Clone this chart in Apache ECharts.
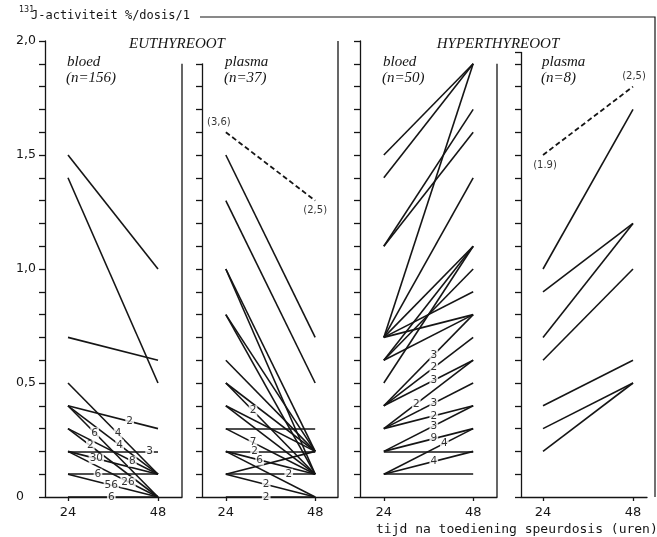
<!DOCTYPE html>
<html><head><meta charset="utf-8">
<script src="https://cdn.jsdelivr.net/npm/echarts@6/dist/echarts.min.js"></script>
<style>html,body{margin:0;padding:0;background:#fff}#c{width:657px;height:537px}</style>
</head><body><div id="c"></div>
<script>
// ================= DATA =================
const hours = [24, 48];
const yTickLabels = ['0', '0,5', '1,0', '1,5', '2,0'];
const yTitleSup = '131';
const yTitle = 'J-activiteit %/dosis/1';
const xTitle = 'tijd na toediening speurdosis (uren)';
const groupNames = ['EUTHYREOOT', 'HYPERTHYREOOT'];
const panelNames = ['bloed', 'plasma', 'bloed', 'plasma'];
const panelN = ['(n=156)', '(n=37)', '(n=50)', '(n=8)'];

// Euthyreoot - bloed (n=156): value at 24 h, value at 48 h, number of patients
const euBloedAt24 = [1.5, 1.4, 0.7, 0.5, 0.4, 0.4, 0.4, 0.3, 0.3, 0.2, 0.2, 0.2, 0.1, 0.1, 0.0];
const euBloedAt48 = [1.0, 0.5, 0.6, 0.1, 0.3, 0.1, 0.0, 0.1, 0.0, 0.2, 0.1, 0.0, 0.1, 0.0, 0.0];
const euBloedCount = [1, 1, 1, 4, 2, 4, 6, 8, 2, 3, 30, 26, 6, 56, 6];

// Euthyreoot - plasma (n=37)
const euPlasmaAt24 = [1.5, 1.3, 1.0, 1.0, 0.8, 0.8, 0.6, 0.5, 0.5, 0.4, 0.4, 0.3, 0.3, 0.2, 0.2, 0.2, 0.1, 0.1, 0.1, 0.0];
const euPlasmaAt48 = [0.7, 0.5, 0.2, 0.1, 0.2, 0.1, 0.2, 0.1, 0.2, 0.2, 0.1, 0.3, 0.1, 0.2, 0.1, 0.0, 0.2, 0.1, 0.0, 0.0];
const euPlasmaCount = [1, 1, 1, 1, 1, 1, 1, 2, 1, 1, 1, 1, 7, 2, 6, 1, 1, 2, 2, 2];
const euPlasmaOffLabels = ['(3,6)', '(2,5)'];   // off-scale patient (true values)
const euPlasmaOffDrawnAt = [1.6, 1.3];          // where it is drawn (dashed)

// Hyperthyreoot - bloed (n=50)
const hyBloedAt24 = [1.5, 1.4, 1.1, 1.1, 0.7, 0.7, 0.7, 0.7, 0.7, 0.6, 0.6, 0.6, 0.5, 0.4, 0.4, 0.4, 0.3, 0.3, 0.3, 0.2, 0.2, 0.2, 0.1, 0.1, 0.1];
const hyBloedAt48 = [1.9, 1.9, 1.7, 1.6, 1.9, 1.4, 1.1, 0.9, 0.8, 1.1, 1.0, 0.8, 1.1, 0.8, 0.7, 0.6, 0.6, 0.5, 0.4, 0.4, 0.3, 0.2, 0.3, 0.2, 0.1];
const hyBloedCount = [1, 1, 1, 1, 1, 1, 1, 1, 1, 1, 1, 1, 1, 3, 2, 3, 2, 3, 2, 3, 9, 1, 4, 4, 1];

// Hyperthyreoot - plasma (n=8)
const hyPlasmaAt24 = [1.0, 0.9, 0.7, 0.6, 0.4, 0.3, 0.2];
const hyPlasmaAt48 = [1.7, 1.2, 1.2, 1.0, 0.6, 0.5, 0.5];
const hyPlasmaCount = [1, 1, 1, 1, 1, 1, 1];
const hyPlasmaOffLabels = ['(1.9)', '(2,5)'];
const hyPlasmaOffDrawnAt = [1.5, 1.8];

// ================= LAYOUT (not data) =================
// fraction along each segment where its count label sits
const euBloedLabelAt = [0, 0, 0, 0.556, 0.685, 0.574, 0.296, 0.715, 0.248, 0.907, 0.315, 0.667, 0.333, 0.481, 0.481];
const euPlasmaLabelAt = [0, 0, 0, 0, 0, 0, 0, 0.304, 0, 0, 0, 0, 0.304, 0.322, 0.378, 0, 0, 0.704, 0.452, 0.452];
const hyBloedLabelAt = [0, 0, 0, 0, 0, 0, 0, 0, 0, 0, 0, 0, 0, 0.559, 0.559, 0.559, 0.363, 0.559, 0.559, 0.559, 0.559, 0, 0.678, 0.559, 0];
const hyPlasmaLabelAt = [0, 0, 0, 0, 0, 0, 0];

const bottomPx = 497, pxPerUnit = 228;
const layout = [
  {left: 45,  width: 137, xMin: 17.87, xMax: 54.4,  yMax: 2.0,  rightTop: 1.9},
  {left: 202, width: 136, xMin: 17.6,  xMax: 54.13, yMax: 1.9,  rightTop: 2.0},
  {left: 360, width: 137, xMin: 17.6,  xMax: 54.4,  yMax: 2.0,  rightTop: 1.9},
  {left: 521, width: 126, xMin: 18.13, xMax: 51.73, yMax: 1.95, rightTop: null}
];

const panels = [
  {at24: euBloedAt24, at48: euBloedAt48, count: euBloedCount, labelAt: euBloedLabelAt},
  {at24: euPlasmaAt24, at48: euPlasmaAt48, count: euPlasmaCount, labelAt: euPlasmaLabelAt,
   off: {labels: euPlasmaOffLabels, at: euPlasmaOffDrawnAt, pos: ['top', 'bottom'], offs: [[-7, 0], [0, 0]]}},
  {at24: hyBloedAt24, at48: hyBloedAt48, count: hyBloedCount, labelAt: hyBloedLabelAt},
  {at24: hyPlasmaAt24, at48: hyPlasmaAt48, count: hyPlasmaCount, labelAt: hyPlasmaLabelAt,
   off: {labels: hyPlasmaOffLabels, at: hyPlasmaOffDrawnAt, pos: ['bottom', 'top'], offs: [[2, 0], [1, 0]]}}
];

const ink = '#151515';
const grids = [], xAxes = [], yAxes = [], series = [];

panels.forEach((p, i) => {
  const L = layout[i];
  grids.push({left: L.left, width: L.width, top: bottomPx - pxPerUnit * L.yMax, height: pxPerUnit * L.yMax});
  xAxes.push({
    gridIndex: i, type: 'value', min: L.xMin, max: L.xMax,
    axisLine: {show: true, onZero: false, lineStyle: {color: ink, width: 1.3}},
    axisTick: {show: true, customValues: hours, length: 4, lineStyle: {color: ink, width: 1.3}},
    axisLabel: {show: true, customValues: hours, margin: 9, color: ink, fontFamily: 'DejaVu Sans', fontSize: 13},
    splitLine: {show: false}
  });
  yAxes.push({
    gridIndex: i, type: 'value', min: 0, max: L.yMax, interval: 0.1,
    axisLine: {show: true, onZero: false, lineStyle: {color: ink, width: 1.3}},
    axisTick: {show: true, length: 6, lineStyle: {color: ink, width: 1.3}},
    axisLabel: {
      show: i === 0, align: 'left', margin: 29, color: ink, fontFamily: 'DejaVu Sans', fontSize: 12.5,
      formatter: v => { const k = Math.round(v * 10); return (k % 5 === 0) ? yTickLabels[k / 5] : ''; }
    },
    splitLine: {show: false}
  });
  series.push({
    type: 'lines', coordinateSystem: 'cartesian2d', xAxisIndex: i, yAxisIndex: i, silent: true, z: 2,
    lineStyle: {color: ink, width: 1.6, opacity: 1, curveness: 0},
    data: p.at24.map((a, k) => ({coords: [[hours[0], a], [hours[1], p.at48[k]]]}))
  });
  const lab = [];
  p.count.forEach((c, k) => {
    if (c > 1) {
      const t = p.labelAt[k];
      lab.push([hours[0] + (hours[1] - hours[0]) * t, p.at24[k] + (p.at48[k] - p.at24[k]) * t, c]);
    }
  });
  if (lab.length) series.push({
    type: 'scatter', xAxisIndex: i, yAxisIndex: i, symbolSize: 0, silent: true, z: 5, data: lab,
    itemStyle: {color: ink},
    label: {show: true, position: 'inside', formatter: q => String(q.value[2]),
      backgroundColor: '#fff', padding: [0, 1], color: '#000', textBorderWidth: 0,
      fontSize: 10.5, fontFamily: 'DejaVu Sans'}
  });
  if (p.off) {
    series.push({
      type: 'lines', coordinateSystem: 'cartesian2d', xAxisIndex: i, yAxisIndex: i, silent: true, z: 2,
      lineStyle: {color: ink, width: 1.8, type: [5, 3], opacity: 1},
      data: [{coords: [[hours[0], p.off.at[0]], [hours[1], p.off.at[1]]]}]
    });
    series.push({
      type: 'scatter', xAxisIndex: i, yAxisIndex: i, symbolSize: 0, silent: true, z: 5,
      itemStyle: {color: ink},
      data: p.off.at.map((v, k) => ({value: [hours[k], v],
        label: {show: true, position: p.off.pos[k], distance: 5, offset: p.off.offs[k], formatter: p.off.labels[k]}})),
      label: {show: true, color: '#000', textBorderWidth: 0, fontSize: 10, fontFamily: 'DejaVu Sans'}
    });
  }
});

const graphic = [
  {type: 'polyline', silent: true, shape: {points: [[200, 17], [655, 17], [655, bottomPx]]}, style: {stroke: ink, lineWidth: 1.2, fill: null}},
  {type: 'text', left: 19, top: 6, style: {text: yTitleSup, font: '8px "DejaVu Sans"', fill: ink}},
  {type: 'text', left: 31, top: 10, style: {text: yTitle, font: '12px "DejaVu Sans Mono"', fill: ink}},
  {type: 'text', x: 177, y: 44, style: {text: groupNames[0], font: 'italic 15px "Liberation Serif"', fill: ink, align: 'center', verticalAlign: 'middle'}},
  {type: 'text', x: 498, y: 44, style: {text: groupNames[1], font: 'italic 15px "Liberation Serif"', fill: ink, align: 'center', verticalAlign: 'middle'}},
  {type: 'text', x: 376, y: 530, style: {text: xTitle, font: '13px "DejaVu Sans Mono"', fill: ink, align: 'left', verticalAlign: 'middle'}}
];
const nameX = [67, 225, 383, 542];
panelNames.forEach((nm, i) => {
  graphic.push({type: 'text', x: nameX[i], y: 62, style: {text: nm, font: 'italic 15px "Liberation Serif"', fill: ink, verticalAlign: 'middle'}});
  graphic.push({type: 'text', x: nameX[i] - 1, y: 78, style: {text: panelN[i], font: 'italic 15px "Liberation Serif"', fill: ink, verticalAlign: 'middle'}});
});
layout.forEach(L => {
  if (L.rightTop !== null) {
    const x = L.left + L.width;
    graphic.push({type: 'line', silent: true, shape: {x1: x, y1: bottomPx - pxPerUnit * L.rightTop, x2: x, y2: bottomPx},
      style: {stroke: ink, lineWidth: 1.3}});
  }
});

const chart = echarts.init(document.getElementById('c'));
chart.setOption({
  animation: false,
  backgroundColor: '#fff',
  grid: grids, xAxis: xAxes, yAxis: yAxes, series: series, graphic: graphic
});
</script></body></html>
